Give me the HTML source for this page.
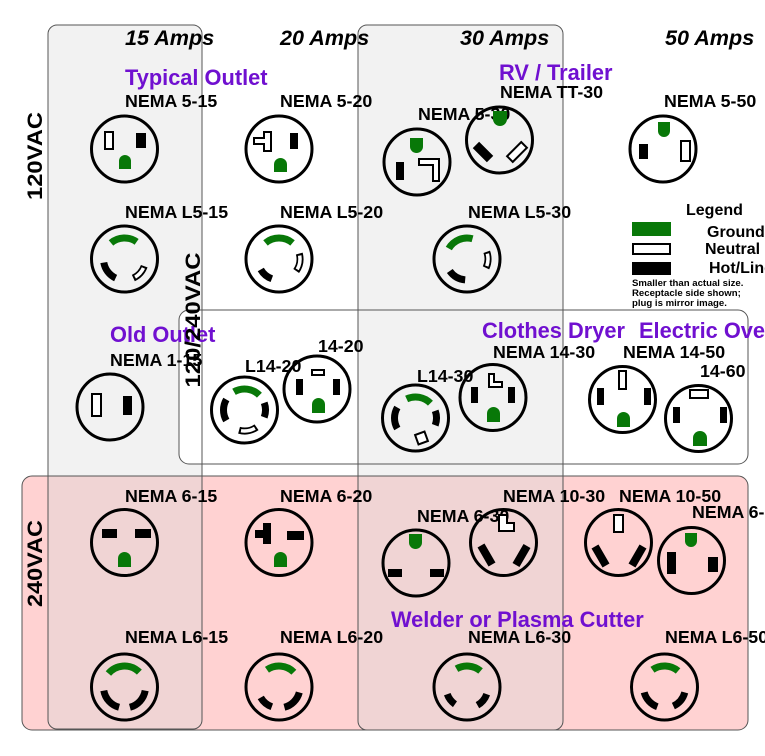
<!DOCTYPE html>
<html><head><meta charset="utf-8"><style>
html,body{margin:0;padding:0;background:#fff;}
svg{display:block;}
text{font-family:"Liberation Sans",Arial,sans-serif;font-weight:bold;}
.amp{font-size:21.6px;font-style:italic;fill:#000;}
.volt{font-size:21px;fill:#000;}
.pur{font-size:21.8px;fill:#7010d0;}
.lb{font-size:17.8px;fill:#000;}
.lg{font-size:16px;fill:#000;}
.sm{font-size:9.6px;fill:#000;}
</style></head><body>
<svg width="765" height="756" viewBox="0 0 765 756" xmlns="http://www.w3.org/2000/svg">
<defs>
<clipPath id="c15"><rect x="48" y="25" width="154" height="704" rx="9"/></clipPath>
<clipPath id="c30"><rect x="358" y="25" width="205" height="705" rx="9"/></clipPath>
</defs>
<!-- fills -->
<rect x="48" y="25" width="154" height="704" rx="9" fill="#f2f2f2"/>
<rect x="22" y="476" width="726" height="254" rx="10" fill="#ffd2d2"/>
<rect x="179" y="310" width="569" height="154" rx="10" fill="#fff"/>
<rect x="358" y="25" width="205" height="705" rx="9" fill="#f2f2f2"/>
<rect x="0" y="476" width="765" height="260" fill="#f0d4d4" clip-path="url(#c15)"/>
<rect x="0" y="476" width="765" height="260" fill="#f0d4d4" clip-path="url(#c30)"/>
<!-- borders -->
<g fill="none" stroke="#555" stroke-width="1">
<rect x="48" y="25" width="154" height="704" rx="9"/>
<rect x="22" y="476" width="726" height="254" rx="10"/>
<rect x="179" y="310" width="569" height="154" rx="10"/>
<rect x="358" y="25" width="205" height="705" rx="9"/>
</g>

<!-- headers -->
<text class="amp" x="125" y="45">15 Amps</text>
<text class="amp" x="280" y="45">20 Amps</text>
<text class="amp" x="460" y="45">30 Amps</text>
<text class="amp" x="665" y="45">50 Amps</text>

<!-- purple labels -->
<text class="pur" x="125" y="85">Typical Outlet</text>
<text class="pur" x="499" y="80">RV / Trailer</text>
<text class="pur" x="110" y="342">Old Outlet</text>
<text class="pur" x="482" y="338">Clothes Dryer</text>
<text class="pur" x="639" y="338">Electric Oven</text>
<text class="pur" x="391" y="627">Welder or Plasma Cutter</text>

<!-- NEMA labels -->
<text class="lb" x="125" y="107">NEMA 5-15</text>
<text class="lb" x="280" y="107">NEMA 5-20</text>
<text class="lb" x="418" y="120">NEMA 5-30</text>
<text class="lb" x="500" y="98">NEMA TT-30</text>
<text class="lb" x="664" y="107">NEMA 5-50</text>
<text class="lb" x="125" y="218">NEMA L5-15</text>
<text class="lb" x="280" y="218">NEMA L5-20</text>
<text class="lb" x="468" y="218">NEMA L5-30</text>
<text class="lb" x="110" y="366">NEMA 1-15</text>
<text class="lb" x="245" y="372">L14-20</text>
<text class="lb" x="318" y="352">14-20</text>
<text class="lb" x="493" y="358">NEMA 14-30</text>
<text class="lb" x="623" y="358">NEMA 14-50</text>
<text class="lb" x="700" y="377">14-60</text>
<text class="lb" x="417" y="382">L14-30</text>
<text class="lb" x="125" y="502">NEMA 6-15</text>
<text class="lb" x="280" y="502">NEMA 6-20</text>
<text class="lb" x="503" y="502">NEMA 10-30</text>
<text class="lb" x="619" y="502">NEMA 10-50</text>
<text class="lb" x="417" y="522">NEMA 6-30</text>
<text class="lb" x="692" y="518">NEMA 6-50</text>
<text class="lb" x="125" y="643">NEMA L6-15</text>
<text class="lb" x="280" y="643">NEMA L6-20</text>
<text class="lb" x="468" y="643">NEMA L6-30</text>
<text class="lb" x="665" y="643">NEMA L6-50</text>

<!-- legend -->
<text class="lg" x="686" y="215">Legend</text>
<rect x="632" y="222" width="39" height="14" fill="#087808"/>
<text class="lg" x="707" y="237">Ground</text>
<rect x="633" y="244" width="37" height="10" fill="#fff" stroke="#000" stroke-width="2"/>
<text class="lg" x="705" y="254">Neutral</text>
<rect x="632" y="262" width="39" height="13" fill="#000"/>
<text class="lg" x="709" y="273">Hot/Line</text>
<text class="sm" x="632" y="286">Smaller than actual size.</text>
<text class="sm" x="632" y="296">Receptacle side shown;</text>
<text class="sm" x="632" y="306">plug is mirror image.</text>

<!-- outlet circles -->
<g fill="none" stroke="#000" stroke-width="3">
<circle cx="124.5" cy="149" r="33"/>
<circle cx="279" cy="149" r="33"/>
<circle cx="417" cy="162" r="33"/>
<circle cx="499.5" cy="140" r="33"/>
<circle cx="663" cy="149" r="33"/>
<circle cx="124.5" cy="259" r="33"/>
<circle cx="279" cy="259" r="33"/>
<circle cx="467" cy="259" r="33"/>
<circle cx="110" cy="407" r="33"/>
<circle cx="244.5" cy="410" r="33"/>
<circle cx="317" cy="389" r="33"/>
<circle cx="415.5" cy="418" r="33"/>
<circle cx="493" cy="397.5" r="33"/>
<circle cx="622.5" cy="399.5" r="33"/>
<circle cx="698.5" cy="418.5" r="33"/>
<circle cx="124.5" cy="542.5" r="33"/>
<circle cx="279" cy="542.5" r="33"/>
<circle cx="416" cy="563" r="33"/>
<circle cx="503.5" cy="542.5" r="33"/>
<circle cx="618.5" cy="542.5" r="33"/>
<circle cx="691.5" cy="560.5" r="33"/>
<circle cx="124.5" cy="687" r="33"/>
<circle cx="279" cy="687" r="33"/>
<circle cx="467" cy="687" r="33"/>
<circle cx="664.5" cy="687" r="33"/>
</g>

<!-- straight-blade slots -->
<!-- 5-15 -->
<rect x="105" y="132" width="8" height="17" fill="#fff" stroke="#000" stroke-width="2"/>
<rect x="136" y="133" width="10" height="15" fill="#000"/>
<path d="M119,169 V161 A6,6 0 0 1 131,161 V169 Z" fill="#087808"/>
<!-- 5-20 -->
<polygon points="264,132 271,132 271,151 264,151 264,144 254,144 254,138 264,138" fill="#fff" stroke="#000" stroke-width="2"/>
<rect x="290" y="133" width="8" height="16" fill="#000"/>
<path d="M274,172 V164.5 A6.5,6.5 0 0 1 287,164.5 V172 Z" fill="#087808"/>
<!-- 5-30 -->
<path d="M410,138 H423 V146.5 A6.5,6.5 0 0 1 410,146.5 Z" fill="#087808"/>
<rect x="396" y="162" width="8" height="18" fill="#000"/>
<polygon points="419,159 439,159 439,181 433,181 433,165 419,165" fill="#fff" stroke="#000" stroke-width="2"/>
<!-- TT-30 -->
<path d="M493,111 H507 V119 A7,7 0 0 1 493,119 Z" fill="#087808"/>
<rect x="473" y="147.5" width="20" height="9" fill="#000" transform="rotate(45 483 152)"/>
<rect x="507" y="148" width="20" height="8" fill="#fff" stroke="#000" stroke-width="2" transform="rotate(-45 517 152)"/>
<!-- 5-50 -->
<path d="M658,122 H670 V131 A6,6 0 0 1 658,131 Z" fill="#087808"/>
<rect x="639" y="144" width="9" height="15" fill="#000"/>
<rect x="681" y="141" width="9" height="20" fill="#fff" stroke="#000" stroke-width="2"/>
<!-- 1-15 -->
<rect x="92" y="394" width="9" height="22" fill="#fff" stroke="#000" stroke-width="2"/>
<rect x="123" y="396" width="9" height="19" fill="#000"/>
<!-- 14-20 -->
<rect x="312" y="370" width="12" height="5" fill="#fff" stroke="#000" stroke-width="2"/>
<rect x="296" y="379" width="7" height="16" fill="#000"/>
<rect x="333" y="379" width="7" height="16" fill="#000"/>
<path d="M312,413 V404.5 A6.5,6.5 0 0 1 325,404.5 V413 Z" fill="#087808"/>
<!-- 14-30 -->
<polygon points="489,374 494,374 494,382 502,382 502,387 489,387" fill="#fff" stroke="#000" stroke-width="2"/>
<rect x="471" y="387" width="7" height="16" fill="#000"/>
<rect x="508" y="387" width="7" height="16" fill="#000"/>
<path d="M487,422 V413.5 A6.5,6.5 0 0 1 500,413.5 V422 Z" fill="#087808"/>
<!-- 14-50 -->
<rect x="619" y="371" width="7" height="18" fill="#fff" stroke="#000" stroke-width="2"/>
<rect x="597" y="388" width="7" height="17" fill="#000"/>
<rect x="644" y="388" width="7" height="17" fill="#000"/>
<path d="M617,427 V418.5 A6.5,6.5 0 0 1 630,418.5 V427 Z" fill="#087808"/>
<!-- 14-60 -->
<rect x="690" y="390" width="18" height="8" fill="#fff" stroke="#000" stroke-width="2"/>
<rect x="673" y="407" width="7" height="16" fill="#000"/>
<rect x="720" y="407" width="7" height="16" fill="#000"/>
<path d="M693,446 V438 A7,7 0 0 1 707,438 V446 Z" fill="#087808"/>
<!-- 6-15 -->
<rect x="102" y="529" width="15" height="9" fill="#000"/>
<rect x="135" y="529" width="16" height="9" fill="#000"/>
<path d="M118,567 V558.5 A6.5,6.5 0 0 1 131,558.5 V567 Z" fill="#087808"/>
<!-- 6-20 -->
<polygon points="263,523 271,523 271,544 263,544 263,538 255,538 255,530 263,530" fill="#000"/>
<rect x="287" y="531" width="17" height="9" fill="#000"/>
<path d="M274,567 V558.5 A6.5,6.5 0 0 1 287,558.5 V567 Z" fill="#087808"/>
<!-- 6-30 -->
<path d="M409,534 H422 V542.5 A6.5,6.5 0 0 1 409,542.5 Z" fill="#087808"/>
<rect x="388" y="569" width="14" height="8" fill="#000"/>
<rect x="430" y="569" width="14" height="8" fill="#000"/>
<!-- 10-30 -->
<polygon points="499,515 507,515 507,523 514,523 514,531 499,531" fill="#fff" stroke="#000" stroke-width="2"/>
<rect x="475.5" y="551" width="22" height="8" fill="#000" transform="rotate(60 486.5 555)"/>
<rect x="510.5" y="551.5" width="22" height="8" fill="#000" transform="rotate(-60 521.5 555.5)"/>
<!-- 10-50 -->
<rect x="614" y="515" width="9" height="17" fill="#fff" stroke="#000" stroke-width="2"/>
<rect x="589.5" y="552" width="22" height="8" fill="#000" transform="rotate(60 600.5 556)"/>
<rect x="626.5" y="552" width="22" height="8" fill="#000" transform="rotate(-60 637.5 556)"/>
<!-- 6-50 -->
<path d="M685,533 H697 V541 A6,6 0 0 1 685,541 Z" fill="#087808"/>
<rect x="667" y="552" width="9" height="22" fill="#000"/>
<rect x="708" y="557" width="10" height="15" fill="#000"/>

<!-- locking slots (arcs r=21) -->
<g fill="none" stroke-width="7">
<!-- L5-15 -->
<circle cx="124.5" cy="259" r="21" stroke="#087808" stroke-dasharray="27.5 200" transform="rotate(-130 124.5 259)"/>
<circle cx="124.5" cy="259" r="21" stroke="#000" stroke-dasharray="20.2 200" transform="rotate(115 124.5 259)"/>
<circle cx="124.5" cy="259" r="21" stroke="#000" stroke-dasharray="16.5 200" transform="rotate(20 124.5 259)"/>
<!-- L5-20 -->
<circle cx="279" cy="259" r="21" stroke="#087808" stroke-dasharray="29.3 200" transform="rotate(-130 279 259)"/>
<circle cx="279" cy="259" r="21" stroke="#000" stroke-dasharray="14.7 200" transform="rotate(110 279 259)"/>
<circle cx="279" cy="259" r="21" stroke="#000" stroke-dasharray="18.3 200" transform="rotate(-15 279 259)"/>
<!-- L5-30 -->
<circle cx="467" cy="259" r="21" stroke="#087808" stroke-dasharray="27.5 200" transform="rotate(-150 467 259)"/>
<circle cx="467" cy="259" r="21" stroke="#000" stroke-dasharray="18.3 200" transform="rotate(95 467 259)"/>
<circle cx="467" cy="259" r="21" stroke="#000" stroke-dasharray="16.5 200" transform="rotate(-20 467 259)"/>
<!-- L14-20 -->
<circle cx="244.5" cy="410" r="21" stroke="#087808" stroke-dasharray="27.5 200" transform="rotate(-120 244.5 410)"/>
<circle cx="244.5" cy="410" r="21" stroke="#000" stroke-dasharray="22 200" transform="rotate(150 244.5 410)"/>
<circle cx="244.5" cy="410" r="21" stroke="#000" stroke-dasharray="14.7 200" transform="rotate(-20 244.5 410)"/>
<circle cx="244.5" cy="410" r="21" stroke="#000" stroke-dasharray="18.3 200" transform="rotate(55 244.5 410)"/>
<!-- L14-30 -->
<circle cx="415.5" cy="418" r="21" stroke="#087808" stroke-dasharray="25.7 200" transform="rotate(-115 415.5 418)"/>
<circle cx="415.5" cy="418" r="21" stroke="#000" stroke-dasharray="22 200" transform="rotate(150 415.5 418)"/>
<circle cx="415.5" cy="418" r="21" stroke="#000" stroke-dasharray="14.7 200" transform="rotate(-20 415.5 418)"/>
<!-- L6-15 -->
<circle cx="124.5" cy="687" r="21" stroke="#087808" stroke-dasharray="34.8 200" transform="rotate(-140 124.5 687)"/>
<circle cx="124.5" cy="687" r="21" stroke="#000" stroke-dasharray="23.8 200" transform="rotate(105 124.5 687)"/>
<circle cx="124.5" cy="687" r="21" stroke="#000" stroke-dasharray="23.8 200" transform="rotate(10 124.5 687)"/>
<!-- L6-20 -->
<circle cx="279" cy="687" r="21" stroke="#087808" stroke-dasharray="29.3 200" transform="rotate(-125 279 687)"/>
<circle cx="279" cy="687" r="21" stroke="#000" stroke-dasharray="14.7 200" transform="rotate(110 279 687)"/>
<circle cx="279" cy="687" r="21" stroke="#000" stroke-dasharray="22 200" transform="rotate(15 279 687)"/>
<!-- L6-30 -->
<circle cx="467" cy="687" r="21" stroke="#087808" stroke-dasharray="25.7 200" transform="rotate(-120 467 687)"/>
<circle cx="467" cy="687" r="21" stroke="#000" stroke-dasharray="12.8 200" transform="rotate(125 467 687)"/>
<circle cx="467" cy="687" r="21" stroke="#000" stroke-dasharray="14.7 200" transform="rotate(20 467 687)"/>
<!-- L6-50 -->
<circle cx="664.5" cy="687" r="21" stroke="#087808" stroke-dasharray="27.5 200" transform="rotate(-125 664.5 687)"/>
<circle cx="664.5" cy="687" r="21" stroke="#000" stroke-dasharray="20.2 200" transform="rotate(110 664.5 687)"/>
<circle cx="664.5" cy="687" r="21" stroke="#000" stroke-dasharray="18.3 200" transform="rotate(15 664.5 687)"/>
</g>
<!-- white inner of neutral locking slots -->
<g fill="none" stroke="#fff" stroke-width="3.5">
<circle cx="124.5" cy="259" r="21" stroke-dasharray="12.5 200" transform="rotate(25.5 124.5 259)"/>
<circle cx="279" cy="259" r="21" stroke-dasharray="14.3 200" transform="rotate(-9.5 279 259)"/>
<circle cx="467" cy="259" r="21" stroke-dasharray="12.5 200" transform="rotate(-14.5 467 259)"/>
<circle cx="244.5" cy="410" r="21" stroke-dasharray="14.3 200" transform="rotate(60.5 244.5 410)"/>
</g>
<rect x="416.5" y="433" width="10" height="10" fill="#fff" stroke="#000" stroke-width="2" transform="rotate(-20 421.5 438)"/>

<!-- voltage labels -->
<text class="volt" text-anchor="middle" textLength="88" lengthAdjust="spacingAndGlyphs" transform="translate(42,156) rotate(-90)">120VAC</text>
<text class="volt" text-anchor="middle" textLength="135" lengthAdjust="spacingAndGlyphs" transform="translate(200,320) rotate(-90)">120/240VAC</text>
<text class="volt" text-anchor="middle" textLength="87" lengthAdjust="spacingAndGlyphs" transform="translate(42,563.5) rotate(-90)">240VAC</text>
</svg>
</body></html>
